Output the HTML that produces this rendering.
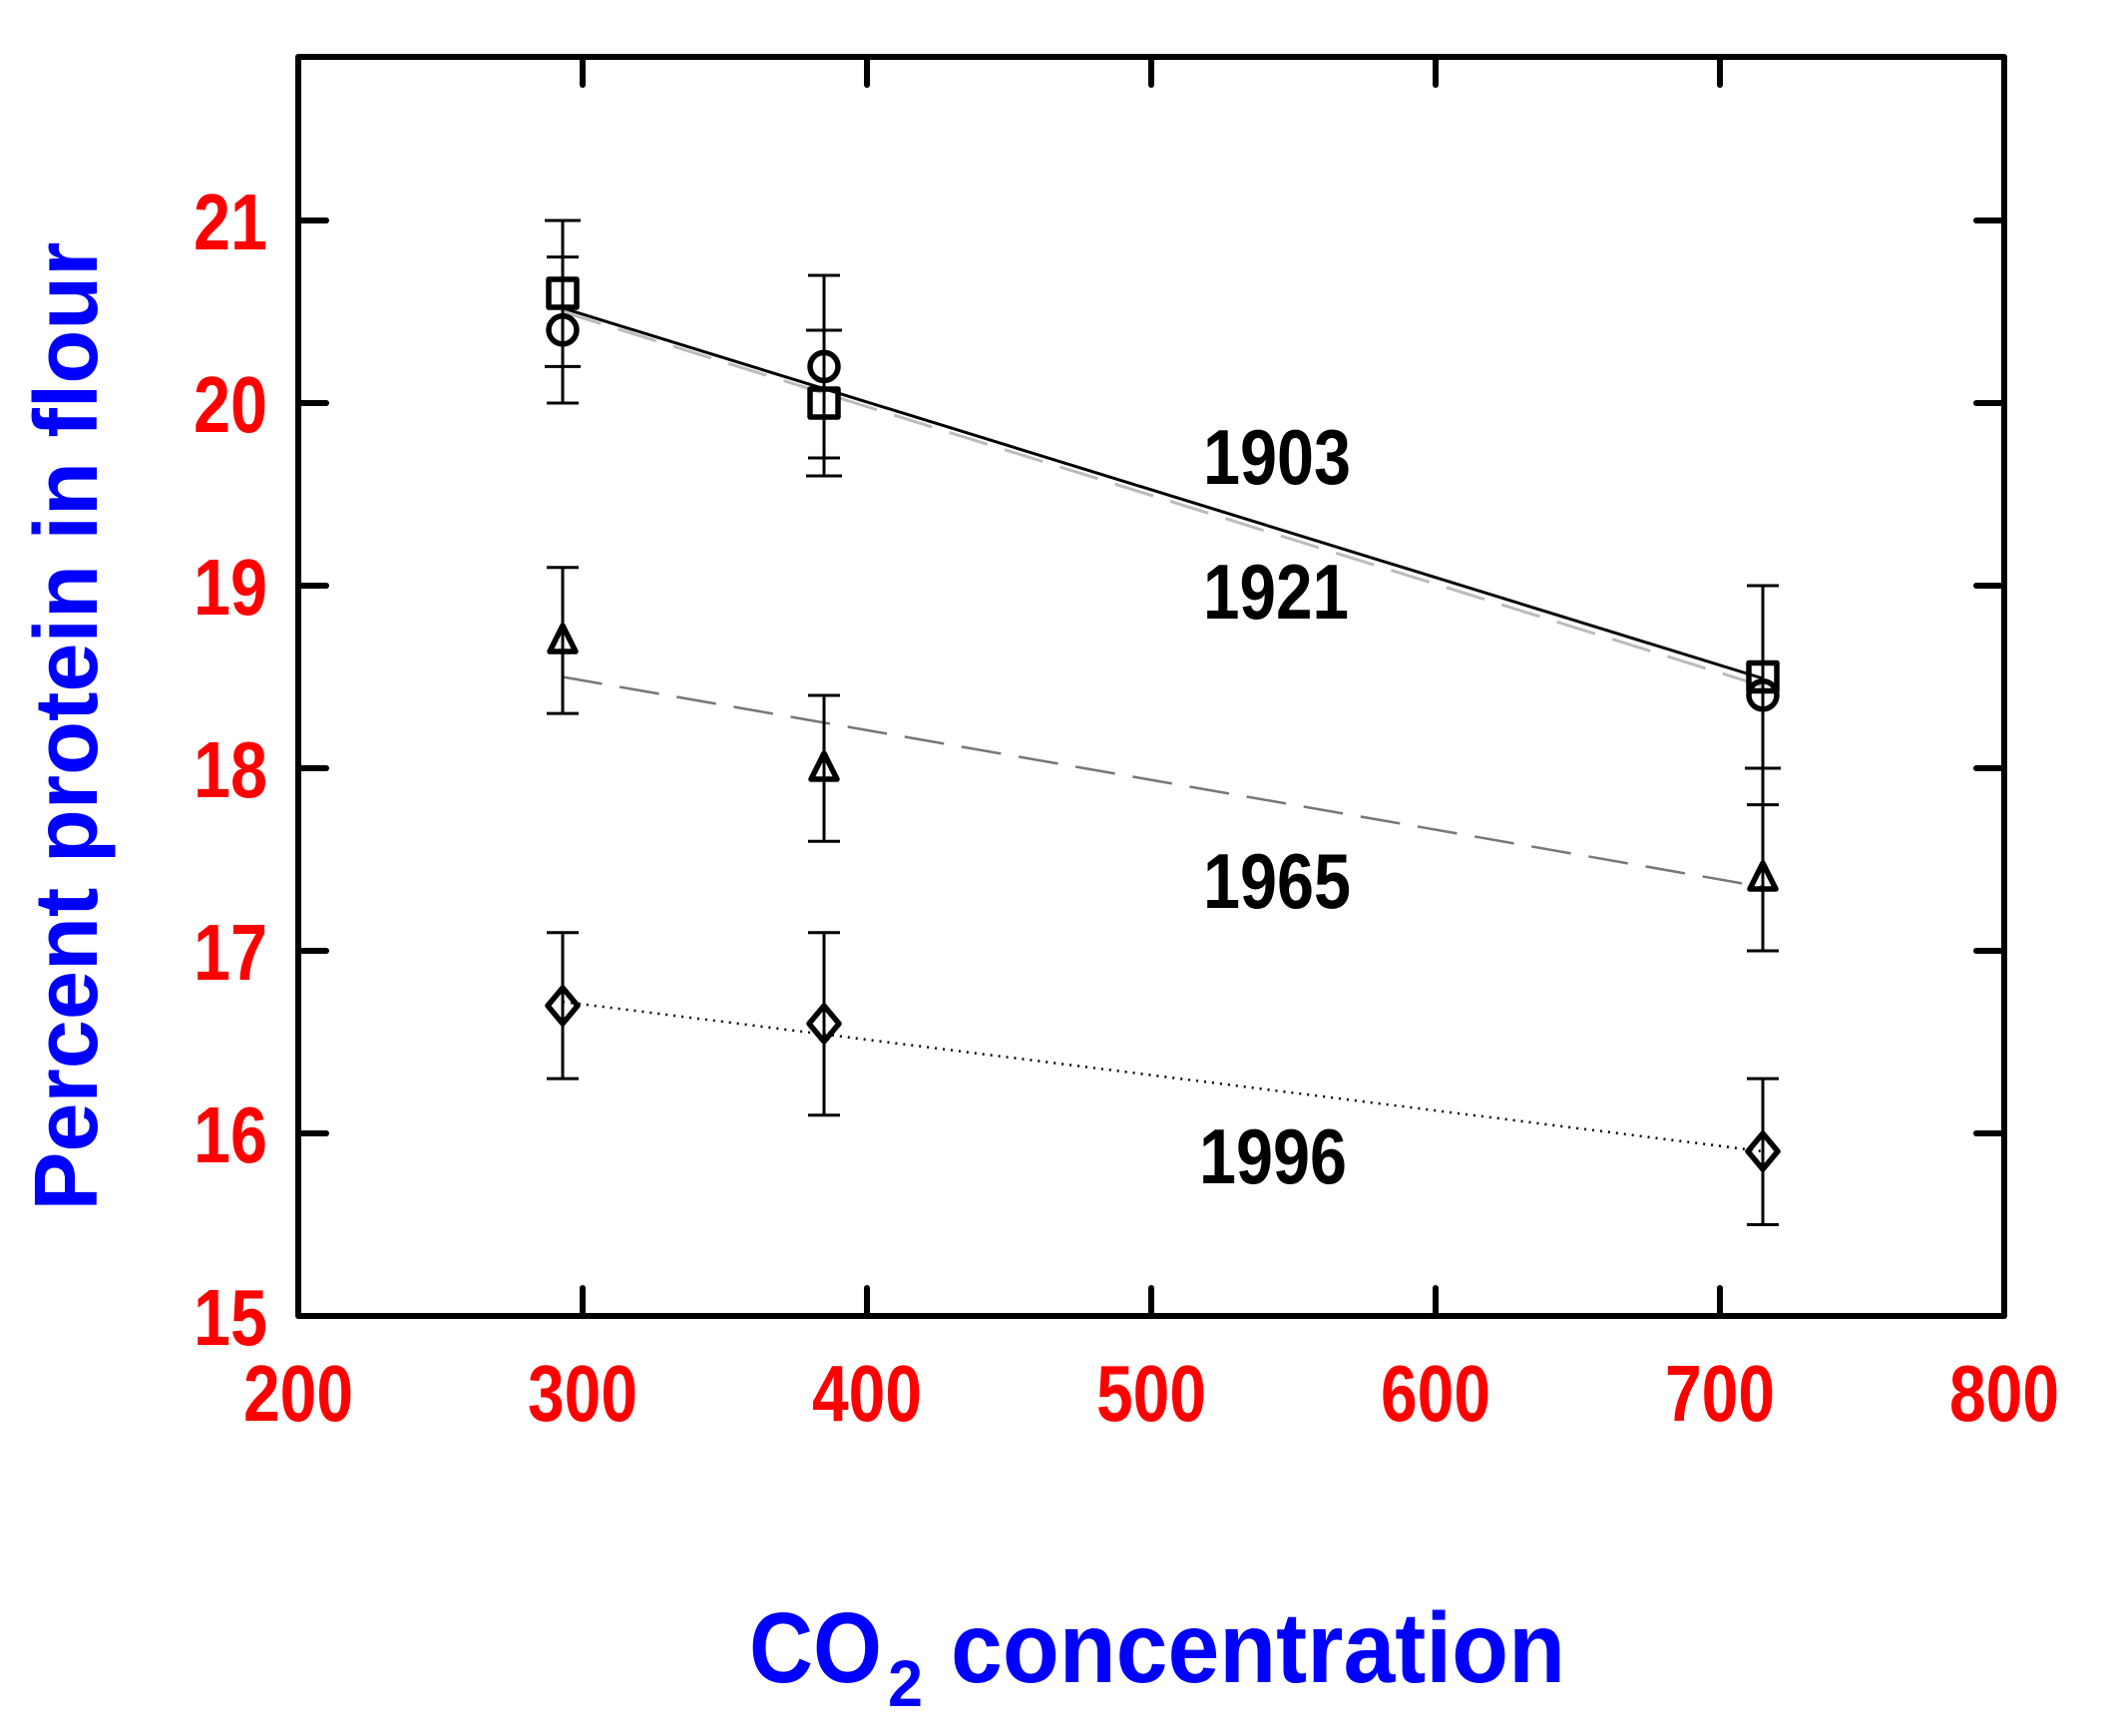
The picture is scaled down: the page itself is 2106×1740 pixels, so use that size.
<!DOCTYPE html>
<html><head><meta charset="utf-8"><style>html,body{margin:0;padding:0;background:#fff}svg{display:block}</style></head>
<body>
<svg width="2106" height="1740" viewBox="0 0 2106 1740" xmlns="http://www.w3.org/2000/svg">
<rect width="2106" height="1740" fill="#fff"/>
<line x1="564" y1="312.5" x2="1767" y2="687.7" stroke="#bbb" stroke-width="3" stroke-dasharray="40,18"/>
<line x1="564" y1="308.8" x2="1767" y2="680" stroke="#000" stroke-width="3"/>
<line x1="564" y1="678.5" x2="1767" y2="889" stroke="#777" stroke-width="2.5" stroke-dasharray="40,18"/>
<line x1="564" y1="1004" x2="1767" y2="1154" stroke="#000" stroke-width="2.5" stroke-dasharray="2,6"/>
<g stroke="#000" stroke-width="3" fill="none">
<line x1="564" y1="221" x2="564" y2="404"/>
<line x1="546" y1="221" x2="582" y2="221"/><line x1="548" y1="257.6" x2="580" y2="257.6"/>
<line x1="546" y1="367.4" x2="582" y2="367.4"/><line x1="548" y1="404" x2="580" y2="404"/>
<line x1="826" y1="276" x2="826" y2="477"/>
<line x1="810" y1="276" x2="842" y2="276"/><line x1="808" y1="331" x2="844" y2="331"/>
<line x1="810" y1="459" x2="842" y2="459"/><line x1="808" y1="477" x2="844" y2="477"/>
<line x1="1767" y1="587" x2="1767" y2="806.6"/>
<line x1="1751" y1="587" x2="1783" y2="587"/><line x1="1749" y1="770" x2="1785" y2="770"/><line x1="1751" y1="806.6" x2="1783" y2="806.6"/>
<line x1="564" y1="568.7" x2="564" y2="715.1"/><line x1="548" y1="568.7" x2="580" y2="568.7"/><line x1="548" y1="715.1" x2="580" y2="715.1"/>
<line x1="826" y1="697" x2="826" y2="843.2"/><line x1="810" y1="697" x2="842" y2="697"/><line x1="810" y1="843.2" x2="842" y2="843.2"/>
<line x1="1767" y1="806.6" x2="1767" y2="953"/><line x1="1751" y1="953" x2="1783" y2="953"/>
<line x1="564" y1="934.7" x2="564" y2="1081.1"/><line x1="548" y1="934.7" x2="580" y2="934.7"/><line x1="548" y1="1081.1" x2="580" y2="1081.1"/>
<line x1="826" y1="934.7" x2="826" y2="1117.7"/><line x1="810" y1="934.7" x2="842" y2="934.7"/><line x1="810" y1="1117.7" x2="842" y2="1117.7"/>
<line x1="1767" y1="1081.1" x2="1767" y2="1227.5"/><line x1="1751" y1="1081.1" x2="1783" y2="1081.1"/><line x1="1751" y1="1227.5" x2="1783" y2="1227.5"/>
</g>
<g stroke="#000" stroke-width="5.5" fill="none" stroke-linejoin="round">
<rect x="550" y="280" width="28" height="28"/><rect x="812" y="390" width="28" height="28"/><rect x="1753" y="664.5" width="28" height="28"/>
<circle cx="564" cy="330.8" r="14"/><circle cx="826" cy="367.4" r="14"/><circle cx="1767" cy="696.8" r="14"/>
<polygon points="564,627 551,653 577,653"/><polygon points="826,755 813,781 839,781"/><polygon points="1767,865 1754,891 1780,891"/>
<polygon points="564,990 579,1008 564,1026 549,1008"/><polygon points="826,1008 841,1026 826,1044 811,1026"/><polygon points="1767,1136 1782,1154 1767,1172 1752,1154"/>
</g>
<rect x="299" y="57" width="1710" height="1262" fill="none" stroke="#000" stroke-width="6" stroke-linejoin="round"/>
<g stroke="#000" stroke-width="6" stroke-linecap="round">
<line x1="584" y1="1319" x2="584" y2="1291"/><line x1="869" y1="1319" x2="869" y2="1291"/><line x1="1154" y1="1319" x2="1154" y2="1291"/><line x1="1439" y1="1319" x2="1439" y2="1291"/><line x1="1724" y1="1319" x2="1724" y2="1291"/>
<line x1="584" y1="57" x2="584" y2="85"/><line x1="869" y1="57" x2="869" y2="85"/><line x1="1154" y1="57" x2="1154" y2="85"/><line x1="1439" y1="57" x2="1439" y2="85"/><line x1="1724" y1="57" x2="1724" y2="85"/>
<line x1="299" y1="1136" x2="327" y2="1136"/><line x1="299" y1="953" x2="327" y2="953"/><line x1="299" y1="770" x2="327" y2="770"/><line x1="299" y1="587" x2="327" y2="587"/><line x1="299" y1="404" x2="327" y2="404"/><line x1="299" y1="221" x2="327" y2="221"/>
<line x1="2009" y1="1136" x2="1981" y2="1136"/><line x1="2009" y1="953" x2="1981" y2="953"/><line x1="2009" y1="770" x2="1981" y2="770"/><line x1="2009" y1="587" x2="1981" y2="587"/><line x1="2009" y1="404" x2="1981" y2="404"/><line x1="2009" y1="221" x2="1981" y2="221"/>
</g>
<g font-family="Liberation Sans, Arial, sans-serif" font-weight="bold" font-size="80" fill="#ff0000">
<g text-anchor="end">
<text x="268" y="1348" textLength="74" lengthAdjust="spacingAndGlyphs">15</text><text x="268" y="1165" textLength="74" lengthAdjust="spacingAndGlyphs">16</text><text x="268" y="982" textLength="74" lengthAdjust="spacingAndGlyphs">17</text><text x="268" y="799" textLength="74" lengthAdjust="spacingAndGlyphs">18</text><text x="268" y="616" textLength="74" lengthAdjust="spacingAndGlyphs">19</text><text x="268" y="433" textLength="74" lengthAdjust="spacingAndGlyphs">20</text><text x="268" y="250" textLength="74" lengthAdjust="spacingAndGlyphs">21</text>
</g>
<g text-anchor="middle">
<text x="299" y="1424" textLength="110" lengthAdjust="spacingAndGlyphs">200</text><text x="584" y="1424" textLength="110" lengthAdjust="spacingAndGlyphs">300</text><text x="869" y="1424" textLength="110" lengthAdjust="spacingAndGlyphs">400</text><text x="1154" y="1424" textLength="110" lengthAdjust="spacingAndGlyphs">500</text><text x="1439" y="1424" textLength="110" lengthAdjust="spacingAndGlyphs">600</text><text x="1724" y="1424" textLength="110" lengthAdjust="spacingAndGlyphs">700</text><text x="2009" y="1424" textLength="110" lengthAdjust="spacingAndGlyphs">800</text>
</g>
</g>
<g font-family="Liberation Sans, Arial, sans-serif" font-weight="bold" font-size="78" fill="#000">
<text x="1206" y="485" textLength="148" lengthAdjust="spacingAndGlyphs">1903</text>
<text x="1206" y="620" textLength="146" lengthAdjust="spacingAndGlyphs">1921</text>
<text x="1206" y="910" textLength="148" lengthAdjust="spacingAndGlyphs">1965</text>
<text x="1202" y="1186" textLength="148" lengthAdjust="spacingAndGlyphs">1996</text>
</g>
<text transform="translate(97,728) rotate(-90)" text-anchor="middle" font-family="Liberation Sans, Arial, sans-serif" font-weight="bold" font-size="90" fill="#0000ff" textLength="971" lengthAdjust="spacingAndGlyphs">Percent protein in flour</text>
<g font-family="Liberation Sans, Arial, sans-serif" font-weight="bold" fill="#0000ff">
<text x="751" y="1686" font-size="100" textLength="133" lengthAdjust="spacingAndGlyphs">CO</text>
<text x="890" y="1710" font-size="66" textLength="35" lengthAdjust="spacingAndGlyphs">2</text>
<text x="953" y="1686" font-size="100" textLength="616" lengthAdjust="spacingAndGlyphs">concentration</text>
</g>
</svg>
</body></html>
